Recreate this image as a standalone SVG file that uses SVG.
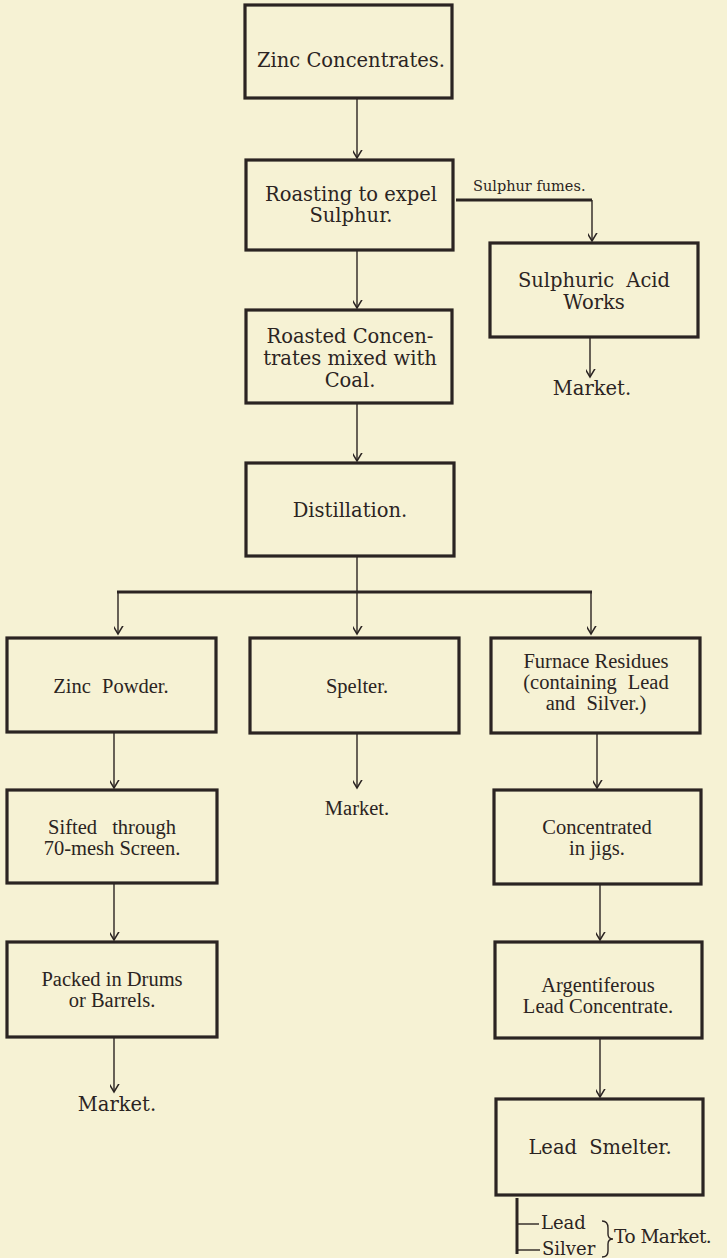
<svg xmlns="http://www.w3.org/2000/svg" width="727" height="1258" viewBox="0 0 727 1258">
<style>
.box{fill:none;stroke:#2b2422;stroke-width:3.2;stroke-linejoin:miter}
.wide{font-family:"DejaVu Serif","Liberation Serif",serif;font-size:19.5px;fill:#2b2422;text-anchor:middle}
.cond{font-family:"Liberation Serif","DejaVu Serif",serif;font-size:20.5px;fill:#2b2422;text-anchor:middle}
.small{font-family:"DejaVu Serif","Liberation Serif",serif;font-size:14.5px;fill:#2b2422}
.ln{fill:none;stroke:#2b2422;stroke-width:1.4}
.thick{fill:none;stroke:#2b2422;stroke-width:3}
.ws{word-spacing:6px}
</style>
<defs>
<marker id="ah" markerUnits="userSpaceOnUse" markerWidth="16" markerHeight="16" viewBox="-8 -12 16 16" refX="0" refY="0" orient="auto">
<path d="M-10,-6 L0,0 L-10,6" fill="none" stroke="#2b2422" stroke-width="1.5"/>
</marker>
</defs>
<rect width="727" height="1258" fill="#f6f2d4"/>
<g id="connectors">
<line class="ln" x1="357" y1="98" x2="357" y2="158" marker-end="url(#ah)"/>
<line class="ln" x1="357" y1="250" x2="357" y2="308" marker-end="url(#ah)"/>
<line class="thick" x1="456" y1="200" x2="592" y2="200"/>
<line class="ln" x1="592" y1="200" x2="592" y2="241" marker-end="url(#ah)"/>
<text class="small" x="473" y="191">Sulphur fumes.</text>
<line class="ln" x1="590" y1="338" x2="590" y2="377" marker-end="url(#ah)"/>
<line class="ln" x1="357" y1="403" x2="357" y2="461" marker-end="url(#ah)"/>
<line class="ln" x1="357" y1="556" x2="357" y2="592"/>
<line class="thick" x1="117" y1="592" x2="592" y2="592"/>
<line class="ln" x1="118" y1="592" x2="118" y2="634" marker-end="url(#ah)"/>
<line class="ln" x1="357" y1="592" x2="357" y2="634" marker-end="url(#ah)"/>
<line class="ln" x1="591" y1="592" x2="591" y2="634" marker-end="url(#ah)"/>
<line class="ln" x1="114" y1="732" x2="114" y2="788" marker-end="url(#ah)"/>
<line class="ln" x1="357" y1="733" x2="357" y2="788" marker-end="url(#ah)"/>
<line class="ln" x1="597" y1="733" x2="597" y2="788" marker-end="url(#ah)"/>
<line class="ln" x1="114" y1="883" x2="114" y2="940" marker-end="url(#ah)"/>
<line class="ln" x1="114" y1="1037" x2="114" y2="1092" marker-end="url(#ah)"/>
<line class="ln" x1="600" y1="884" x2="600" y2="940" marker-end="url(#ah)"/>
<line class="ln" x1="600" y1="1038" x2="600" y2="1097" marker-end="url(#ah)"/>
<line class="thick" x1="517" y1="1198" x2="517" y2="1254"/>
<line class="ln" x1="517" y1="1224" x2="539" y2="1224"/>
<line class="ln" x1="517" y1="1250" x2="540" y2="1250"/>
<path class="ln" d="M602,1221 Q608,1221 608,1228 L608,1234 Q608,1239 613,1239 Q608,1239 608,1244 L608,1251 Q608,1257 602,1257"/>
</g>
<g id="n1"><rect class="box" x="245" y="5" width="207" height="93"/><text class="wide" x="351" y="67">Zinc Concentrates.</text></g>
<g id="n2"><rect class="box" x="246" y="160" width="207" height="90"/><text class="wide" x="351" y="201">Roasting to expel</text><text class="wide" x="351" y="222">Sulphur.</text></g>
<g id="n3"><rect class="box" x="490" y="243" width="208" height="94"/><text class="wide ws" x="594" y="287">Sulphuric Acid</text><text class="wide" x="594" y="309">Works</text></g>
<g id="m1"><text class="wide" x="592" y="395">Market.</text></g>
<g id="n4"><rect class="box" x="246" y="310" width="206" height="93"/><text class="wide" x="350" y="343">Roasted Concen-</text><text class="wide" x="350" y="365">trates mixed with</text><text class="wide" x="350" y="387">Coal.</text></g>
<g id="n5"><rect class="box" x="246" y="463" width="208" height="93"/><text class="wide" x="350" y="517">Distillation.</text></g>
<g id="n6"><rect class="box" x="7" y="638" width="209" height="94"/><text class="cond ws" x="111" y="693">Zinc Powder.</text></g>
<g id="n7"><rect class="box" x="250" y="638" width="209" height="95"/><text class="cond" x="357" y="693">Spelter.</text></g>
<g id="n8"><rect class="box" x="491" y="638" width="209" height="95"/><text class="cond" x="596" y="668">Furnace Residues</text><text class="cond ws" x="596" y="689">(containing Lead</text><text class="cond ws" x="596" y="710">and Silver.)</text></g>
<g id="m2"><text class="cond" x="357" y="815">Market.</text></g>
<g id="n9"><rect class="box" x="7" y="790" width="210" height="93"/><text class="cond" x="112" y="834" style="word-spacing:10px">Sifted through</text><text class="cond" x="112" y="855">70-mesh Screen.</text></g>
<g id="n10"><rect class="box" x="494" y="790" width="207" height="94"/><text class="cond" x="597" y="834">Concentrated</text><text class="cond" x="597" y="855">in jigs.</text></g>
<g id="n11"><rect class="box" x="7" y="942" width="210" height="95"/><text class="cond" x="112" y="986">Packed in Drums</text><text class="cond" x="112" y="1007">or Barrels.</text></g>
<g id="m3"><text class="wide" x="117" y="1111">Market.</text></g>
<g id="n12"><rect class="box" x="495" y="942" width="207" height="96"/><text class="cond" x="598" y="992">Argentiferous</text><text class="cond" x="598" y="1013">Lead Concentrate.</text></g>
<g id="n13"><rect class="box" x="496" y="1099" width="207" height="96"/><text class="wide ws" x="600" y="1154">Lead Smelter.</text></g>
<g id="out"><text class="wide" x="541" y="1229" style="text-anchor:start;font-size:18px">Lead</text><text class="wide" x="542" y="1255" style="text-anchor:start;font-size:18px">Silver</text><text class="wide" x="614" y="1243" style="text-anchor:start;font-size:18.5px;letter-spacing:-0.5px">To Market.</text></g>
</svg>
